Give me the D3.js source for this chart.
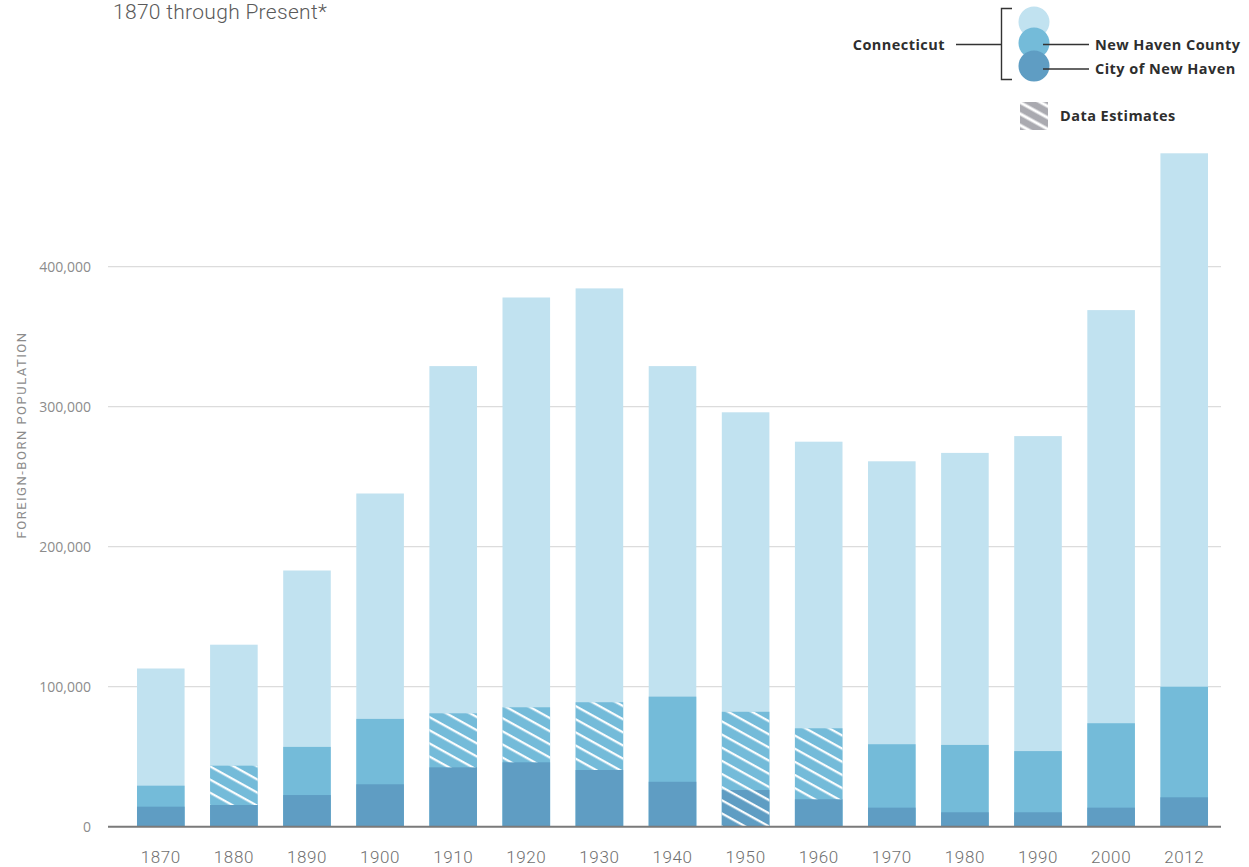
<!DOCTYPE html>
<html>
<head>
<meta charset="utf-8">
<script src="https://cdn.jsdelivr.net/npm/d3@7"></script>
<style>
  html, body { margin: 0; padding: 0; background: #fff; }
  svg { display: block; font-family: Roboto, "Noto Sans", sans-serif; }
</style>
</head>
<body>
<svg id="chart" width="1249" height="867"></svg>
<script>
// ---- Data ----
const years = ["1870","1880","1890","1900","1910","1920","1930","1940","1950","1960","1970","1980","1990","2000","2012"];
const connecticut = [113000,130000,183000,238000,329000,378000,384500,329000,296000,275000,261000,267000,279000,369000,481000];
const newHavenCounty = [29300,43600,57000,77000,81000,85300,88900,92900,82100,70300,58900,58400,54000,73900,100000];
const cityOfNewHaven = [14300,15500,22600,30300,42400,46000,40500,32100,26200,19600,13600,10300,10300,13600,21000];
const estimatedYears = ["1880","1910","1920","1930","1950","1960"];
const fullyEstimatedYears = ["1950"];
const yTicks = [0,100000,200000,300000,400000];
const seriesNames = ["Connecticut","New Haven County","City of New Haven"];
const subtitle = "1870 through Present*";
const yTitle = "FOREIGN-BORN POPULATION";
const estimateLabel = "Data Estimates";

// ---- Setup ----
const colors = { ct: "#c1e2f0", county: "#74bbd9", city: "#5f9dc3" };
const svg = d3.select("#chart");

const x = d3.scaleBand().domain(years).range([124.2, 1220.8]).paddingInner(0.349).paddingOuter(0.175);
const y = d3.scaleLinear().domain([0, 400000]).range([826.7, 266.7]);

const defs = svg.append("defs");
defs.append("pattern")
  .attr("id", "hatch").attr("patternUnits", "userSpaceOnUse")
  .attr("width", 11.5).attr("height", 11.5)
  .attr("patternTransform", "rotate(29)")
  .append("line").attr("x1", 0).attr("y1", 5).attr("x2", 11.5).attr("y2", 5)
  .attr("stroke", "#fff").attr("stroke-width", 2.2);
defs.append("pattern")
  .attr("id", "hatchLegend").attr("patternUnits", "userSpaceOnUse")
  .attr("width", 10).attr("height", 10)
  .attr("patternTransform", "rotate(29)")
  .append("line").attr("x1", 0).attr("y1", 5).attr("x2", 10).attr("y2", 5)
  .attr("stroke", "#fff").attr("stroke-width", 3);

// Subtitle
svg.append("text").attr("x", 113).attr("y", 19)
  .attr("font-size", 21).attr("font-weight", 300).attr("letter-spacing", 0.3).attr("fill", "#5a5a5a")
  .text(subtitle);

// Gridlines
const grid = svg.append("g");
grid.selectAll("line").data(yTicks.filter(d => d > 0)).join("line")
  .attr("x1", 108).attr("x2", 1221)
  .attr("y1", d => y(d)).attr("y2", d => y(d))
  .attr("stroke", "#dcdcdc").attr("stroke-width", 1.2);

// Y axis
const yAxis = d3.axisLeft(y).tickValues(yTicks).tickSize(0).tickPadding(0)
  .tickFormat(d3.format(","));
const yg = svg.append("g").attr("transform", "translate(91,0)").call(yAxis);
yg.select(".domain").remove();
yg.selectAll("text").attr("font-size", 14).attr("fill", "#8c8c8c")
  .attr("font-family", "'Open Sans', sans-serif").attr("dy", "0.35em");

// Y title
svg.append("text")
  .attr("transform", "translate(26,435) rotate(-90)")
  .attr("text-anchor", "middle")
  .attr("font-size", 13).attr("letter-spacing", 1.5).attr("fill", "#8c8c8c")
  .text(yTitle);

// Bars
const rows = years.map((yr, i) => ({ year: yr, ct: connecticut[i], county: newHavenCounty[i], city: cityOfNewHaven[i] }));
const bars = svg.append("g");
bars.selectAll(".ct").data(rows).join("rect").attr("class", "ct")
  .attr("x", d => x(d.year)).attr("width", x.bandwidth())
  .attr("y", d => y(d.ct)).attr("height", d => y(0) - y(d.ct)).attr("fill", colors.ct);
bars.selectAll(".county").data(rows).join("rect").attr("class", "county")
  .attr("x", d => x(d.year)).attr("width", x.bandwidth())
  .attr("y", d => y(d.county)).attr("height", d => y(0) - y(d.county)).attr("fill", colors.county);
bars.selectAll(".city").data(rows).join("rect").attr("class", "city")
  .attr("x", d => x(d.year)).attr("width", x.bandwidth())
  .attr("y", d => y(d.city)).attr("height", d => y(0) - y(d.city)).attr("fill", colors.city);
bars.selectAll(".est").data(rows.filter(d => estimatedYears.includes(d.year))).join("rect").attr("class", "est")
  .attr("x", d => x(d.year)).attr("width", x.bandwidth())
  .attr("y", d => y(d.county))
  .attr("height", d => (fullyEstimatedYears.includes(d.year) ? y(0) : y(d.city)) - y(d.county))
  .attr("fill", "url(#hatch)");

// Baseline
svg.append("line").attr("x1", 108).attr("x2", 1221).attr("y1", y(0)).attr("y2", y(0))
  .attr("stroke", "#7a7a7a").attr("stroke-width", 2);

// X axis
const xAxis = d3.axisBottom(x).tickSize(0).tickPadding(0);
const xg = svg.append("g").attr("transform", `translate(0,${y(0)})`).call(xAxis);
xg.select(".domain").remove();
xg.selectAll("text").attr("font-size", 17).attr("font-weight", 300).attr("letter-spacing", 0.6)
  .attr("fill", "#6f6f6f")
  .attr("font-family", "Roboto, sans-serif").attr("y", 30).attr("dy", "0.35em");

// Legend
const lg = svg.append("g").attr("font-family", "'Open Sans', sans-serif");
const circleData = [
  { name: seriesNames[0], c: colors.ct, cy: 22 },
  { name: seriesNames[1], c: colors.county, cy: 43 },
  { name: seriesNames[2], c: colors.city, cy: 66 }
];
lg.selectAll("circle").data(circleData).join("circle")
  .attr("cx", 1034).attr("cy", d => d.cy).attr("r", 15.5).attr("fill", d => d.c);
lg.append("path").attr("d", "M1012,8.5 H1001.5 V79.5 H1012")
  .attr("fill", "none").attr("stroke", "#333").attr("stroke-width", 1.4);
lg.append("line").attr("x1", 956).attr("x2", 1001).attr("y1", 44.5).attr("y2", 44.5)
  .attr("stroke", "#333").attr("stroke-width", 1.4);
const legendText = (xx, yy, t, anchor) => lg.append("text").attr("x", xx).attr("y", yy)
  .attr("dy", "0.35em").attr("text-anchor", anchor || "start")
  .attr("font-size", 14.5).attr("font-weight", 700).attr("letter-spacing", 0.45)
  .attr("fill", "#2e2e2e").text(t);
legendText(945, 44.5, seriesNames[0], "end");
lg.append("line").attr("x1", 1043).attr("x2", 1089).attr("y1", 44.5).attr("y2", 44.5)
  .attr("stroke", "#333").attr("stroke-width", 1.4);
legendText(1095, 44.5, seriesNames[1]);
lg.append("line").attr("x1", 1043).attr("x2", 1089).attr("y1", 69).attr("y2", 69)
  .attr("stroke", "#333").attr("stroke-width", 1.4);
legendText(1095, 69, seriesNames[2]);
lg.append("rect").attr("x", 1020).attr("y", 102).attr("width", 28).attr("height", 28).attr("fill", "#aaaab0");
lg.append("rect").attr("x", 1020).attr("y", 102).attr("width", 28).attr("height", 28).attr("fill", "url(#hatchLegend)");
legendText(1060, 116, estimateLabel);
</script>
</body>
</html>
